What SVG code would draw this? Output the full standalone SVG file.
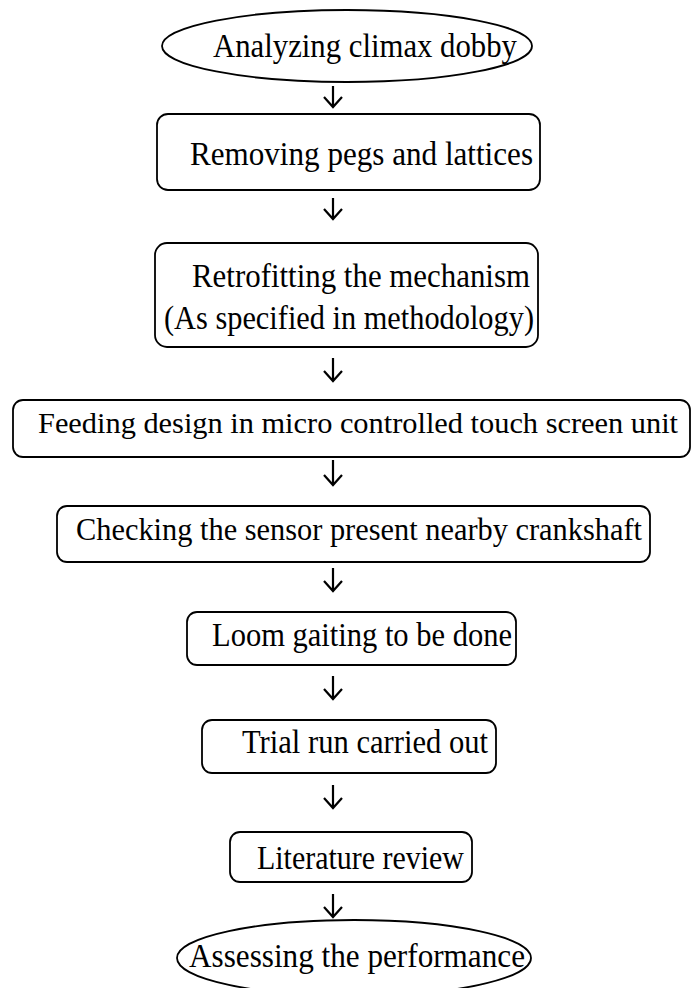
<svg xmlns="http://www.w3.org/2000/svg" width="692" height="988" viewBox="0 0 692 988">
<style>
.n{fill:#fff;stroke:#000;stroke-width:1.8}
.t{font-family:"Liberation Serif","Times New Roman",serif;font-size:34px;fill:#000}
.s{font-size:31px}
.f{font-size:29.6px}
.c{fill:none;stroke:#000;stroke-width:2.2}
</style>
<rect width="692" height="988" fill="#fff"/>
<g id="connectors">
<path class="c" d="M333 86V106M324 97L333 107L342 97"/>
<path class="c" d="M333 198V218M324 209L333 219L342 209"/>
<path class="c" d="M333 358V380M324 371L333 381L342 371"/>
<path class="c" d="M333 460V484M324 475L333 485L342 475"/>
<path class="c" d="M333 568V590M324 581L333 591L342 581"/>
<path class="c" d="M333 676V698M324 689L333 699L342 689"/>
<path class="c" d="M333 785V807M324 798L333 808L342 798"/>
<path class="c" d="M333 894V916M324 907L333 917L342 907"/>
</g>
<g id="n1"><ellipse class="n" cx="347" cy="46" rx="185" ry="36"/><text class="t" x="213" y="57" textLength="304" lengthAdjust="spacingAndGlyphs">Analyzing climax dobby</text></g>
<g id="n2"><rect class="n" x="157" y="114" width="383" height="76" rx="11"/><text class="t" x="190" y="165" textLength="343" lengthAdjust="spacingAndGlyphs">Removing pegs and lattices</text></g>
<g id="n3"><rect class="n" x="155" y="243" width="383" height="104" rx="12"/><text class="t" x="192" y="287" textLength="338" lengthAdjust="spacingAndGlyphs">Retrofitting the mechanism</text><text class="t" x="164" y="329" textLength="370" lengthAdjust="spacingAndGlyphs">(As specified in methodology)</text></g>
<g id="n4"><rect class="n" x="13" y="400" width="677" height="57" rx="10"/><text class="t f" x="38" y="433" textLength="640" lengthAdjust="spacingAndGlyphs">Feeding design in micro controlled touch screen unit</text></g>
<g id="n5"><rect class="n" x="57" y="506" width="593" height="56" rx="10"/><text class="t s" x="76" y="540" textLength="566" lengthAdjust="spacingAndGlyphs">Checking the sensor present nearby crankshaft</text></g>
<g id="n6"><rect class="n" x="187" y="612" width="329" height="53" rx="10"/><text class="t" x="212" y="646" textLength="300" lengthAdjust="spacingAndGlyphs">Loom gaiting to be done</text></g>
<g id="n7"><rect class="n" x="202" y="720" width="294" height="53" rx="10"/><text class="t" x="242" y="753" textLength="246" lengthAdjust="spacingAndGlyphs">Trial run carried out</text></g>
<g id="n8"><rect class="n" x="230" y="832" width="242" height="50" rx="10"/><text class="t" x="257" y="869" textLength="207" lengthAdjust="spacingAndGlyphs">Literature review</text></g>
<g id="n9"><ellipse class="n" cx="354" cy="958" rx="177" ry="38"/><text class="t" x="189" y="967" textLength="336" lengthAdjust="spacingAndGlyphs">Assessing the performance</text></g>
</svg>
